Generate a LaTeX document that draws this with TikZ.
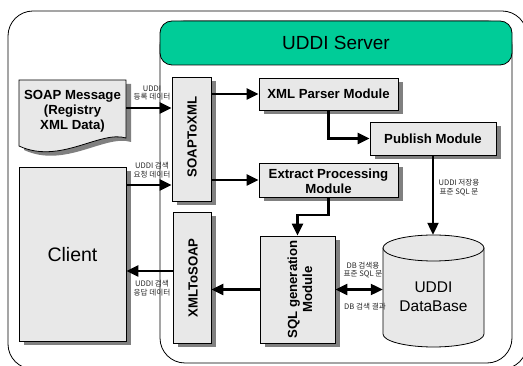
\documentclass[tikz,border=0pt]{standalone}
\usepackage{fontspec}
\setmainfont{Liberation Sans}
\newfontfamily\krfont{Noto Sans CJK KR}
\usetikzlibrary{arrows.meta,shadows,calc}
\definecolor{srvgreen}{RGB}{0,204,152}
\definecolor{boxfill}{RGB}{232,232,232}
\definecolor{shadegray}{RGB}{128,128,128}
\begin{document}
\begin{tikzpicture}[x=1pt,y=-1pt,
  box/.style={draw,line width=0.8pt,fill=boxfill,inner sep=0pt,
    drop shadow={shadow xshift=5pt,shadow yshift=-4pt,fill=shadegray,opacity=1}},
  btxt/.style={font=\bfseries\fontsize{13.2}{15}\selectfont,align=center,inner sep=0pt},
  lbl/.style={font=\krfont\fontsize{7.6}{8.8}\selectfont,align=center,inner sep=0pt,text=black!85},
  arr/.style={line width=2.2pt,-{Triangle[length=12pt,width=11pt]}},
  darr/.style={line width=2.2pt,{Triangle[length=12pt,width=11pt]}-{Triangle[length=12pt,width=11pt]}}
]
\useasboundingbox (0,0) rectangle (523,366);
% outer frame
\draw[line width=0.8pt,rounded corners=25pt] (8,11) rectangle (527,369);
% UDDI server container
\draw[line width=0.8pt,rounded corners=25pt] (160,21) rectangle (512,363);
\draw[line width=0.8pt,rounded corners=12pt,fill=srvgreen] (160,21) rectangle (512,65);
\node[font=\fontsize{19}{22}\selectfont] (hdr) at (336,43) {UDDI Server};

% SOAP message document
\begin{scope}[shift={(5,4)}]
  \fill[shadegray] (19,80) -- (126,80) -- (126,138) .. controls (100,130) and (60,165) .. (19,146) -- cycle;
\end{scope}
\draw[line width=0.8pt,fill=boxfill] (19,80) -- (126,80) -- (126,138) .. controls (100,130) and (60,165) .. (19,146) -- cycle;
\node[btxt] (soap) at (72.5,111) {SOAP Message\\(Registry\\XML Data)};
\coordinate (soapr) at (126,108);

% client
\node[box,minimum width=107pt,minimum height=174pt] (client) at (72.5,254) {};
\node[font=\fontsize{19.5}{22}\selectfont] (clientt) at (72.5,255) {Client};
\coordinate (clientr) at (126,185);

% converters
\node[box,minimum width=39pt,minimum height=124pt] (s2x) at (191.5,139) {};
\node[btxt,rotate=90] (s2xt) at (192,137) {SOAPToXML};
\node[box,minimum width=38pt,minimum height=131pt] (x2s) at (192,277.5) {};
\node[btxt,rotate=90] (x2st) at (193,278) {XMLToSOAP};
\coordinate (x2sl) at (173,271);

% modules
\node[box,minimum width=139pt,minimum height=32pt] (xmlp) at (328.5,94) {};
\node[btxt] (xmlpt) at (328.5,94) {XML Parser Module};
\node[box,minimum width=126pt,minimum height=33pt] (pub) at (433,138.5) {};
\node[btxt] (pubt) at (433,139) {Publish Module};
\node[box,minimum width=139pt,minimum height=34pt] (ext) at (328.5,180) {};
\node[btxt] (extt) at (328.5,181) {Extract Processing\\Module};
\node[box,minimum width=75pt,minimum height=107pt] (sql) at (297.5,289.5) {};
\node[btxt,rotate=90] (sqlt) at (300,289.5) {SQL generation\\Module};

% database cylinder
\node[minimum width=101pt,minimum height=112pt,inner sep=0pt] (db) at (433.5,291) {};
\draw[line width=0.8pt,fill=boxfill] (383,248) -- (383,334)
  .. controls (383,341.2) and (405.6,347) .. (433.5,347)
  .. controls (461.4,347) and (484,341.2) .. (484,334) -- (484,248) -- cycle;
\draw[line width=0.8pt,fill=boxfill] (433.5,248) ellipse [x radius=50.5pt,y radius=13pt];
\node[font=\fontsize{15.5}{19}\selectfont,align=center] (dbt) at (433.5,297) {UDDI\\DataBase};

% connectors
\draw[arr] (soapr) -- (soapr -| s2x.west);
\draw[arr] (xmlp.west -| s2x.east) -- (xmlp.west);
\draw[arr] (xmlp.south) |- (pub.west);
\draw[arr] (clientr) -- (clientr -| s2x.west);
\draw[arr] (ext.west -| s2x.east) -- (ext.west);
\draw[arr] (pub.south) -- (pub.south |- db.north);
\draw[arr] (ext.south) -- ++(0,18) -| (sql.north);
\draw[arr] (sql.west) -- (sql.west -| x2s.east);
\draw[arr] (x2sl) -- (x2sl -| client.east);
\draw[darr] (sql.east) -- (sql.east -| db.west);

% labels
\node[lbl] (l1) at (152,93) {UDDI\\등록 데이터};
\node[lbl] (l2) at (152,170) {UDDI 검색\\요청 데이터};
\node[lbl] (l3) at (152,288.5) {UDDI 검색\\응답 데이터};
\node[lbl] (l4) at (459,187.5) {UDDI 저장용\\표준 SQL 문};
\node[lbl] (l5) at (363,270) {DB 검색용\\표준 SQL 문};
\node[lbl] (l6) at (365,307) {DB 검색 결과};
\end{tikzpicture}
\end{document}
